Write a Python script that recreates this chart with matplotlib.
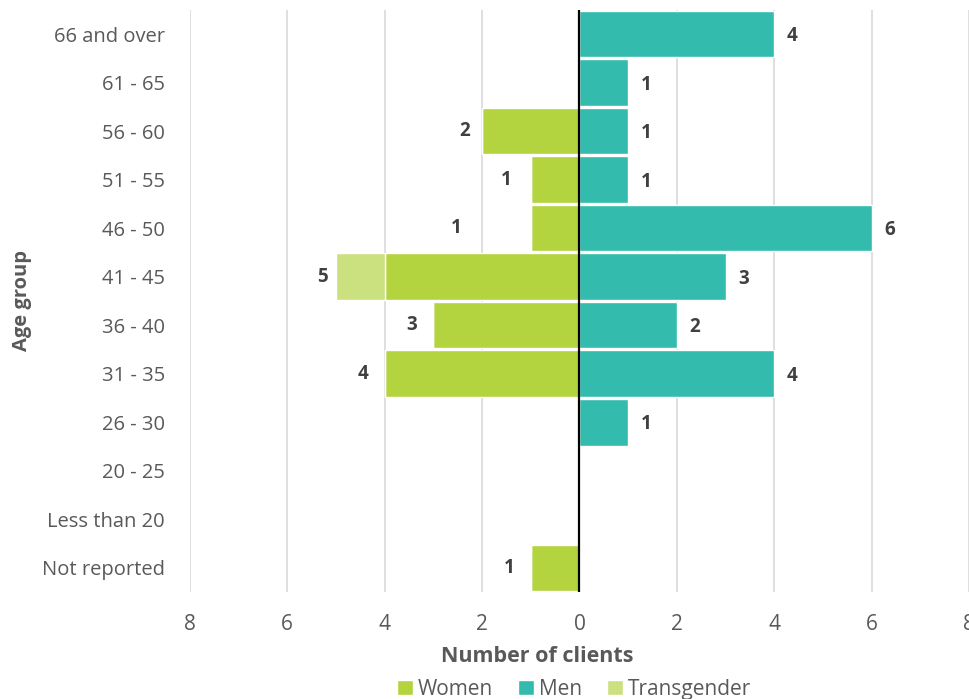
import matplotlib.pyplot as plt
import numpy as np

plt.rcParams["font.family"] = ["Open Sans", "DejaVu Sans"]

age_groups = ["66 and over", "61 - 65", "56 - 60", "51 - 55", "46 - 50", "41 - 45",
              "36 - 40", "31 - 35", "26 - 30", "20 - 25", "Less than 20", "Not reported"]
women = [0, 0, 2, 1, 1, 4, 3, 4, 0, 0, 0, 1]
men = [4, 1, 1, 1, 6, 3, 2, 4, 1, 0, 0, 0]
transgender = [0, 0, 0, 0, 0, 1, 0, 0, 0, 0, 0, 0]
ticks = [-8, -6, -4, -2, 0, 2, 4, 6, 8]
tick_labels = ["8", "6", "4", "2", "0", "2", "4", "6", "8"]

C_WOMEN = "#B3D33F"
C_MEN = "#33BBAE"
C_TRANS = "#CBE07F"
TXT = "#595959"

fig = plt.figure(figsize=(9.69, 6.99), dpi=100)
ax = fig.add_axes([0.196, 0.153, 0.804, 0.833])

y = np.arange(len(age_groups))
w = np.array(women)
m = np.array(men)
t = np.array(transgender)
h = 0.96

ax.barh(y, -w, height=h, color=C_WOMEN, edgecolor="white", linewidth=1, label="Women", zorder=2)
ax.barh(y, m, height=h, color=C_MEN, edgecolor="white", linewidth=1, label="Men", zorder=2)
ax.barh(y, -t, left=-w, height=h, color=C_TRANS, edgecolor="white", linewidth=1,
        label="Transgender", zorder=2)

# value labels: totals on the left side, men on the right (nudges in pixels)
left_nudge = [0, 0, -17, -25, -75, -14, -22, -22, 0, 0, 0, -22]
for i in range(len(age_groups)):
    if m[i] > 0:
        ax.annotate(str(m[i]), (m[i], y[i]), xytext=(13, -1.5), textcoords="offset points",
                    ha="center", va="center", fontsize=13.5, fontweight="bold", color="#404040")
    tot = w[i] + t[i]
    if tot > 0:
        ax.annotate(str(tot), (-tot, y[i]), xytext=(left_nudge[i] * 0.72, 0),
                    textcoords="offset points", ha="center", va="center",
                    fontsize=13.5, fontweight="bold", color="#404040")

ax.axvline(0, color="black", linewidth=1.6, zorder=3)
ax.set_xlim(-8, 8)
ax.set_ylim(len(age_groups) - 0.5, -0.5)
ax.set_xticks(ticks)
ax.set_xticklabels(tick_labels)
ax.set_yticks(y)
ax.set_yticklabels(age_groups)
ax.grid(axis="x", color="#D9D9D9", linewidth=1.2, zorder=0)
ax.set_axisbelow(True)
for s in ax.spines.values():
    s.set_visible(False)
ax.tick_params(axis="x", length=0, labelsize=15, colors=TXT, pad=16)
ax.tick_params(axis="y", length=0, labelsize=14.5, colors=TXT, pad=18)

ax.set_xlabel("Number of clients", fontsize=15.5, fontweight="bold", color=TXT)
ax.xaxis.set_label_coords(0.446, -0.092)
ax.set_ylabel("Age group", fontsize=14.5, fontweight="bold", color=TXT)
ax.yaxis.set_label_coords(-0.203, 0.5)

fig.legend(loc="center", bbox_to_anchor=(0.592, 0.014), ncol=3, frameon=False,
           fontsize=15, labelcolor=TXT, handlelength=0.8, handleheight=0.8,
           handletextpad=0.2, columnspacing=1.2)

fig.savefig("out.png", dpi=100)
